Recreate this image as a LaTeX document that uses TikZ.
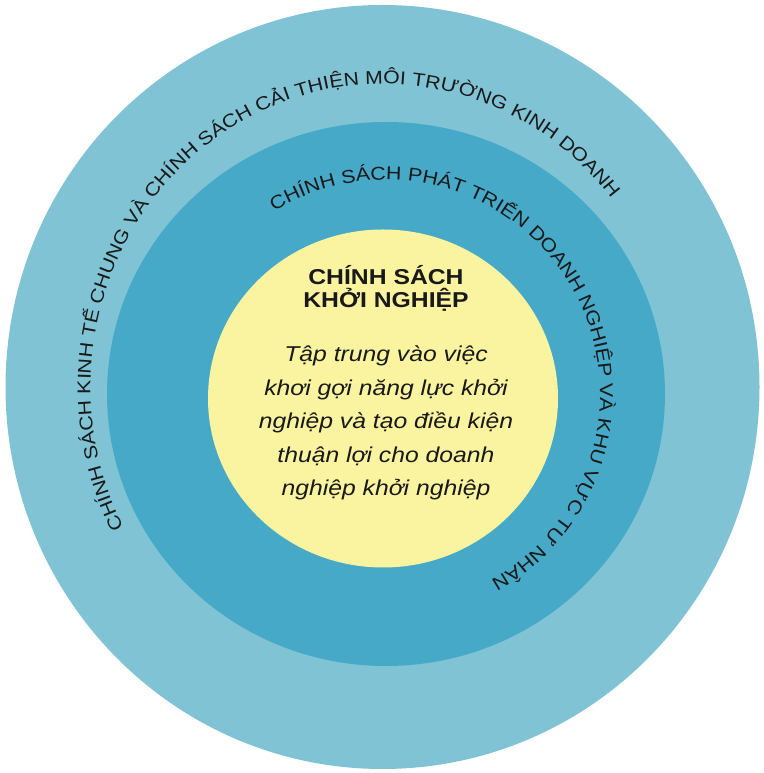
\documentclass[tikz,border=0pt]{standalone}
\usepackage{fontspec}
\setmainfont{Liberation Sans}[FakeStretch=1.15]
\usetikzlibrary{decorations.text}
\definecolor{outerblue}{RGB}{128,195,213}
\definecolor{midblue}{RGB}{71,169,200}
\definecolor{coreyellow}{RGB}{250,244,160}
\definecolor{ink}{RGB}{25,25,25}
\tikzset{
  ring/.style={draw=none},
  arctext/.style={decorate, decoration={text along path, text align=center, text color=ink}},
  titleline/.style={anchor=base, inner sep=0pt, text=ink, font=\fontsize{21.5}{23}\selectfont\bfseries},
  bodyline/.style={anchor=base, inner sep=0pt, text=ink, font=\fontsize{21.5}{33}\selectfont\itshape}
}
\newcommand{\outerfnt}{\fontsize{18.5}{20}\selectfont}
\newcommand{\midfnt}{\fontsize{18.6}{20}\selectfont}
\begin{document}
\begin{tikzpicture}[x=1pt,y=1pt]
\useasboundingbox[fill=white] (0,0) rectangle (763,773);
% rings
\fill[outerblue, ring] (382.5,386) ellipse [x radius=377, y radius=382];
\fill[midblue, ring] (386,379) ellipse [x radius=279, y radius=272];
\fill[coreyellow, ring] (383,374.5) ellipse [x radius=175, y radius=169];
% outer curved text
\path[arctext, decoration={text={|\outerfnt|CHÍNH SÁCH KINH TẾ CHUNG VÀ CHÍNH SÁCH CẢI THIỆN MÔI TRƯỜNG KINH DOANH}}]
  (382.5,386) ++(213:292 and 303) arc[start angle=213, end angle=33, x radius=292, y radius=303];
% middle curved text
\path[arctext, decoration={text={|\midfnt|CHÍNH SÁCH PHÁT TRIỂN DOANH NGHIỆP VÀ KHU VỰC TƯ NHÂN}}]
  (386,379) ++(135.4:214) arc[start angle=135.4, end angle=-74.6, radius=214];
% core text
\node[titleline] (t1) at (386,488) {CHÍNH SÁCH};
\node[titleline] (t2) at (386,465) {KHỞI NGHIỆP};
\node[bodyline] (b1) at (386,411) {Tập trung vào việc};
\node[bodyline] (b2) at (386,377.5) {khơi gợi năng lực khởi};
\node[bodyline] (b3) at (386,344) {nghiệp và tạo điều kiện};
\node[bodyline] (b4) at (386,310.5) {thuận lợi cho doanh};
\node[bodyline] (b5) at (386,277) {nghiệp khởi nghiệp};
\end{tikzpicture}
\end{document}
